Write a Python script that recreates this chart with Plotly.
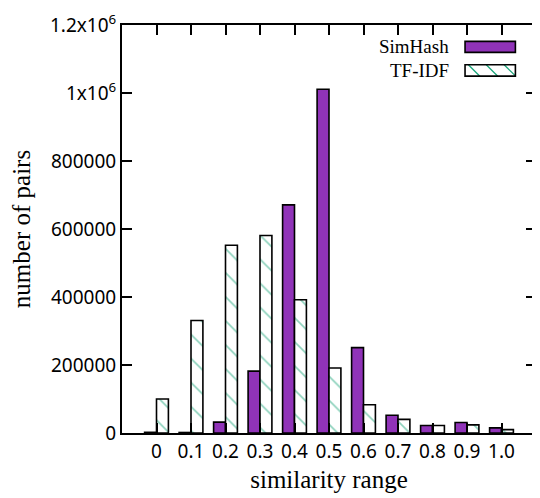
import plotly.graph_objects as go

categories = ["0", "0.1", "0.2", "0.3", "0.4", "0.5", "0.6", "0.7", "0.8", "0.9", "1.0"]
simhash = [2000, 1500, 32000, 182000, 671000, 1011000, 251000, 52000, 22000, 31000, 15000]
tfidf = [100000, 331000, 552000, 581000, 392000, 191000, 83000, 40000, 22000, 24000, 10000]

ytick_vals = [0, 200000, 400000, 600000, 800000, 1000000, 1200000]
ytick_text = ["0", "200000", "400000", "600000", "800000", "1x10<sup>6</sup>", "1.2x10<sup>6</sup>"]

PURPLE = "#9033b8"
TEAL = "#1aa57a"
xs = list(range(len(categories)))

fig = go.Figure()
fig.add_trace(go.Bar(
    x=xs, y=simhash, name="SimHash",
    marker=dict(color=PURPLE, line=dict(color="black", width=1.6)),
))
fig.add_trace(go.Bar(
    x=xs, y=tfidf, name="TF-IDF",
    marker=dict(color="white", line=dict(color="black", width=1.6),
                pattern=dict(shape="\\", fgcolor=TEAL, bgcolor="white", size=17, solidity=0.1)),
))

tickfont = dict(family="Noto Sans", size=19, color="black")
serif = "Liberation Serif"

# page body has an 8px margin; figure sized to fill the remaining window
fig.update_layout(
    width=532, height=490,
    margin=dict(l=114, r=2, t=8, b=65),
    paper_bgcolor="white", plot_bgcolor="white",
    barmode="group", bargap=0.31, bargroupgap=0,
    showlegend=False,
    xaxis=dict(
        range=[-1, 11], tickvals=xs, ticktext=categories,
        ticks="inside", ticklen=10, tickwidth=1.5, tickcolor="black",
        showline=True, linecolor="black", linewidth=2, mirror="ticks",
        showgrid=False, zeroline=False, tickfont=tickfont,
        ticklabeloverflow="allow",
        title=dict(text="similarity range", font=dict(family=serif, size=25, color="black"), standoff=8),
    ),
    yaxis=dict(
        range=[0, 1200000], tickvals=ytick_vals, ticktext=ytick_text,
        ticks="inside", ticklen=10, tickwidth=1.5, tickcolor="black",
        showline=True, linecolor="black", linewidth=2, mirror="ticks",
        showgrid=False, zeroline=False, tickfont=tickfont,
        ticklabeloverflow="allow",
        title=dict(text="number of pairs", font=dict(family=serif, size=25, color="black"), standoff=14),
    ),
)

# manual legend (text left of sample, like gnuplot); positions in window pixels
PX0, PW, PY0, PH = 122, 416, 16, 417
def dx(p):
    return (p - PX0) / PW
def dy(p):
    return (PY0 + PH - p) / PH

legend_items = [("SimHash", 32.7, 44.0), ("TF-IDF", 56.7, 68.3)]
bx0, bx1 = 466.7, 517.3
for i, (label, top, bot) in enumerate(legend_items):
    fig.add_annotation(
        xref="x domain", yref="y domain", x=dx(452.7), y=dy((top + bot) / 2),
        text=label, showarrow=False, xanchor="right", yanchor="middle",
        font=dict(family=serif, size=19, color="black"),
    )
    if i == 1:
        for sx in (470, 488, 506):
            x0, y0 = sx, top
            x1, y1 = sx + (bot - top), bot
            if x1 > bx1:
                y1 = top + (bx1 - x0)
                x1 = bx1
            fig.add_shape(type="line", xref="x domain", yref="y domain",
                          x0=dx(x0), y0=dy(y0), x1=dx(x1), y1=dy(y1),
                          line=dict(color=TEAL, width=1.3))
    fig.add_shape(type="rect", xref="x domain", yref="y domain",
                  x0=dx(bx0), x1=dx(bx1), y0=dy(bot), y1=dy(top),
                  fillcolor=PURPLE if i == 0 else "rgba(0,0,0,0)",
                  line=dict(color="black", width=1.6), layer="above")

fig.write_html("out.html")
